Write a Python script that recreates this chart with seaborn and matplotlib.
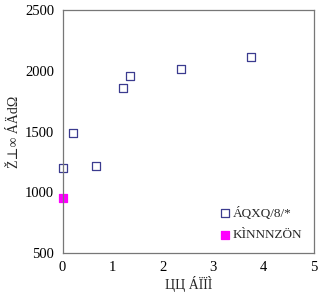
import numpy as np
import pandas as pd
import matplotlib
matplotlib.use("Agg")
import matplotlib.pyplot as plt
import seaborn as sns

# data
series_a_x = [0.0, 0.2, 0.66, 1.21, 1.34, 2.35, 3.75]
series_a_y = [1200, 1490, 1215, 1860, 1955, 2015, 2115]
series_b_x = [0.0]
series_b_y = [955]

series_a_name = "ÁQXQ/8/*"
series_b_name = "KÌNNNZÖN"
x_label = "ЦЦ ÁÏÏÌ"
y_label = "Ž⊥∞ ÁÄdΩ"

x_ticks = [0, 1, 2, 3, 4, 5]
y_ticks = [500, 1000, 1500, 2000, 2500]

sns.set_style("white")
plt.rcParams["font.family"] = ["Liberation Serif", "DejaVu Serif"]

df_a = pd.DataFrame({"x": series_a_x, "y": series_a_y})
df_b = pd.DataFrame({"x": series_b_x, "y": series_b_y})

fig, ax = plt.subplots(figsize=(3.21, 2.97), dpi=100)
fig.subplots_adjust(left=0.195, right=0.978, top=0.966, bottom=0.148)

sns.scatterplot(data=df_a, x="x", y="y", ax=ax, marker="s", s=32,
                facecolors="none", edgecolor="#3b3b8f", linewidth=0.9,
                label=series_a_name, clip_on=False)
sns.scatterplot(data=df_b, x="x", y="y", ax=ax, marker="s", s=32,
                color="#ff00ff", edgecolor="#ff00ff", linewidth=0.9,
                label=series_b_name, clip_on=False)

ax.set_xlim(0, 5)
ax.set_ylim(500, 2500)
ax.set_xticks(x_ticks)
ax.set_yticks(y_ticks)
ax.tick_params(direction="in", length=4, width=0.8, colors="#555555",
               labelcolor="black", labelsize=10.5, pad=6)
for sp in ax.spines.values():
    sp.set_color("#777777")
    sp.set_linewidth(0.9)

ax.set_xlabel(x_label, fontsize=10, labelpad=1)
ax.set_ylabel(y_label, fontsize=10, labelpad=3)

ax.legend(loc="lower right", frameon=False, fontsize=9.5, handletextpad=0.1,
          borderaxespad=0.5, labelspacing=0.7, handlelength=1.0)

fig.savefig("out.png", dpi=100)
